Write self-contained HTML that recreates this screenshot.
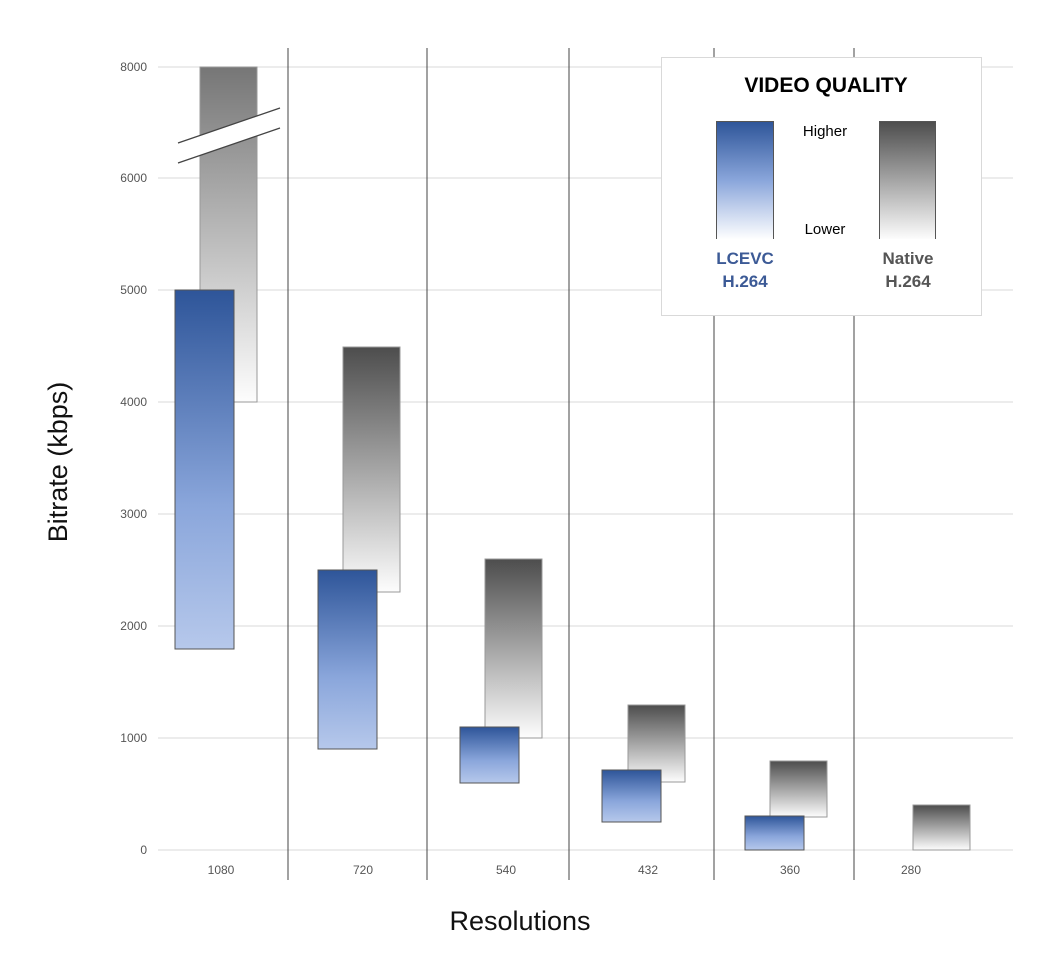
<!DOCTYPE html>
<html><head><style>body{margin:0;background:#fff}svg{display:block}</style></head><body>
<svg width="1040" height="967" xmlns="http://www.w3.org/2000/svg" font-family="Liberation Sans, sans-serif">
<defs>
<linearGradient id="b" x1="0" y1="0" x2="0" y2="1"><stop offset="0" stop-color="#2e5599"/><stop offset="0.6" stop-color="#8aa6db"/><stop offset="1" stop-color="#b6c8eb"/></linearGradient>
<linearGradient id="g" x1="0" y1="0" x2="0" y2="1"><stop offset="0" stop-color="#4d4d4d"/><stop offset="1" stop-color="#fdfdfd"/></linearGradient>
<linearGradient id="g1" x1="0" y1="0" x2="0" y2="1"><stop offset="0" stop-color="#767676"/><stop offset="1" stop-color="#fdfdfd"/></linearGradient>
<linearGradient id="lb" x1="0" y1="0" x2="0" y2="1"><stop offset="0" stop-color="#2e5599"/><stop offset="0.5" stop-color="#8aa6db"/><stop offset="1" stop-color="#ffffff"/></linearGradient>
</defs>
<g stroke="#d9d9d9" stroke-width="1">
<line x1="158" x2="1013" y1="67" y2="67"/><line x1="158" x2="1013" y1="178" y2="178"/>
<line x1="158" x2="1013" y1="290" y2="290"/><line x1="158" x2="1013" y1="402" y2="402"/>
<line x1="158" x2="1013" y1="514" y2="514"/><line x1="158" x2="1013" y1="626" y2="626"/>
<line x1="158" x2="1013" y1="738" y2="738"/><line x1="158" x2="1013" y1="850" y2="850"/>
</g>
<g font-size="12" fill="#555" text-anchor="end">
<text x="147" y="71">8000</text><text x="147" y="182">6000</text><text x="147" y="294">5000</text>
<text x="147" y="406">4000</text><text x="147" y="518">3000</text><text x="147" y="630">2000</text>
<text x="147" y="742">1000</text><text x="147" y="854">0</text>
</g>
<g stroke="#444" stroke-width="1">
<line x1="288" x2="288" y1="48" y2="880"/><line x1="427" x2="427" y1="48" y2="880"/>
<line x1="569" x2="569" y1="48" y2="880"/><line x1="714" x2="714" y1="48" y2="880"/>
<line x1="854" x2="854" y1="48" y2="880"/>
</g>
<g stroke="#999" stroke-width="1">
<rect x="200" y="67" width="57" height="335" fill="url(#g1)"/>
<rect x="343" y="347" width="57" height="245" fill="url(#g)"/>
<rect x="485" y="559" width="57" height="179" fill="url(#g)"/>
<rect x="628" y="705" width="57" height="77" fill="url(#g)"/>
<rect x="770" y="761" width="57" height="56" fill="url(#g)"/>
<rect x="913" y="805" width="57" height="45" fill="url(#g)"/>
</g>
<polygon points="178,143 280,108 280,128 178,163" fill="#fff"/>
<line x1="178" y1="143" x2="280" y2="108" stroke="#444" stroke-width="1.3"/>
<line x1="178" y1="163" x2="280" y2="128" stroke="#444" stroke-width="1.3"/>
<g stroke="#555" stroke-width="1">
<rect x="175" y="290" width="59" height="359" fill="url(#b)"/>
<rect x="318" y="570" width="59" height="179" fill="url(#b)"/>
<rect x="460" y="727" width="59" height="56" fill="url(#b)"/>
<rect x="602" y="770" width="59" height="52" fill="url(#b)"/>
<rect x="745" y="816" width="59" height="34" fill="url(#b)"/>
</g>
<g font-size="12" fill="#555" text-anchor="middle">
<text x="221" y="874">1080</text><text x="363" y="874">720</text><text x="506" y="874">540</text>
<text x="648" y="874">432</text><text x="790" y="874">360</text><text x="911" y="874">280</text>
</g>
<text x="520" y="930" font-size="27" text-anchor="middle" fill="#111">Resolutions</text>
<text transform="translate(67,462) rotate(-90)" font-size="27" text-anchor="middle" fill="#111">Bitrate (kbps)</text>
<rect x="661.5" y="57.5" width="320" height="258" fill="#fff" stroke="#d9d9d9"/>
<text x="826" y="92" font-size="21" font-weight="bold" text-anchor="middle" fill="#000">VIDEO QUALITY</text>
<rect x="716.5" y="121.5" width="57" height="118" fill="url(#lb)" stroke="#555"/>
<rect x="879.5" y="121.5" width="56" height="118" fill="url(#g)" stroke="#555"/>
<rect x="715" y="239" width="60" height="3" fill="#fff"/><rect x="878" y="239" width="59" height="3" fill="#fff"/>
<text x="825" y="136" font-size="15" text-anchor="middle" fill="#000">Higher</text>
<text x="825" y="234" font-size="15" text-anchor="middle" fill="#000">Lower</text>
<g font-size="17" font-weight="bold" text-anchor="middle">
<text x="745" y="264" fill="#3c5a96">LCEVC</text><text x="745" y="287" fill="#3c5a96">H.264</text>
<text x="908" y="264" fill="#555">Native</text><text x="908" y="287" fill="#555">H.264</text>
</g>
</svg>
</body></html>
